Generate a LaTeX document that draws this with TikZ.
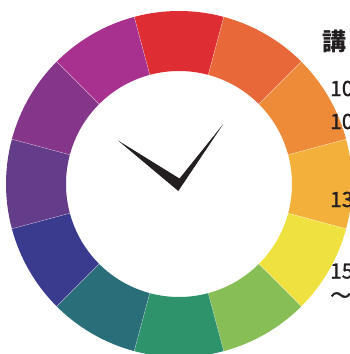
\documentclass[tikz,border=0pt]{standalone}
\usepackage{fontspec}
\newfontfamily\jpfont{Noto Sans CJK JP}
\newfontfamily\jpmid[FakeBold=1.2]{Noto Sans CJK JP}
\usetikzlibrary{calc}

\definecolor{wRed}{HTML}{DF2E33}
\definecolor{wRedOrange}{HTML}{E8683A}
\definecolor{wOrange}{HTML}{EE8B39}
\definecolor{wAmber}{HTML}{F3B03A}
\definecolor{wYellow}{HTML}{EFE240}
\definecolor{wLime}{HTML}{88BE56}
\definecolor{wGreen}{HTML}{2E926A}
\definecolor{wTeal}{HTML}{2A6E7A}
\definecolor{wBlue}{HTML}{3A3A8E}
\definecolor{wIndigo}{HTML}{633C8A}
\definecolor{wPurple}{HTML}{86368A}
\definecolor{wMagenta}{HTML}{A8308E}
\definecolor{handcol}{HTML}{231F20}

\tikzset{
	sep/.style={white, line width=0.4pt, opacity=0.5},
	hand/.style={fill=handcol},
	lbl/.style={anchor=base west, inner sep=0pt, text=handcol,
		font=\jpmid\fontsize{21}{25}\selectfont}
}

\begin{document}
\begin{tikzpicture}[x=1pt,y=1pt]
	\useasboundingbox (-179,-170) rectangle (170,184);
	
	% ring of colours, clockwise from the top
	\foreach \col [count=\i from 0] in {wRed,wRedOrange,wOrange,wAmber,wYellow,wLime,wGreen,wTeal,wBlue,wIndigo,wPurple,wMagenta}{
		\pgfmathsetmacro{\a}{105-30*\i}
		\pgfmathsetmacro{\b}{75-30*\i}
		\fill [\col] (\a:113pt) arc [start angle=\a, end angle=\b, radius=113pt]
		-- (\b:173pt) arc [start angle=\b, end angle=\a, radius=173pt] -- cycle;
	}
	% seams
	\foreach \a in {105,75,...,-225}
	\draw [sep] (\a:113pt) -- (\a:173pt);
	
	% hands
	\coordinate (short) at (-61,43.5);
	\coordinate (long) at (44.3,60);
	\coordinate (heel) at (-0.7,-7);
	\coordinate (notch) at (0.5,5.5);
	\fill [hand] (short) -- (heel) -- (long) -- (notch) -- cycle;
	
	% text at the right edge
	\node [lbl, font=\jpfont\bfseries\fontsize{24}{28}\selectfont] (title) at (143,134) {講};
	\node [lbl] (t1) at (151,88) {10};
	\node [lbl] (t2) at (151,55) {10};
	\node [lbl] (t3) at (151,-23) {13};
	\node [lbl] (t4) at (151,-94.5) {15};
	\node [lbl] (t5) at (151,-119) {～};
\end{tikzpicture}
\end{document}
